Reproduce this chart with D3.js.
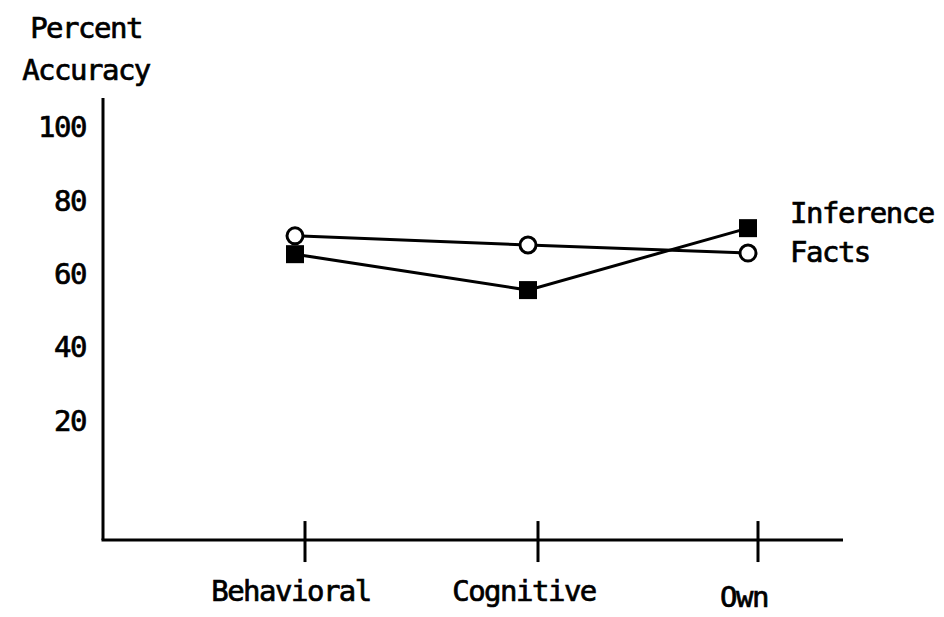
<!DOCTYPE html>
<html>
<head>
<meta charset="utf-8">
<script src="https://cdn.jsdelivr.net/npm/d3@7"></script>
<style>
  html, body { margin: 0; padding: 0; background: #fff; }
  svg { display: block; }
  text { font-family: "DejaVu Sans Mono", monospace; font-size: 29px; letter-spacing: -1.5px; fill: #000; stroke: #000; stroke-width: 0.7px; }
</style>
</head>
<body>
<svg id="chart" width="944" height="617"></svg>
<script>
// ---- data ----
const categories = ["Behavioral", "Cognitive", "Own"];
const inferenceValues = [65.3, 55.5, 72.4];
const factsValues = [70.3, 67.8, 65.6];
const yTickValues = [100, 80, 60, 40, 20];
const yTickLabels = ["100", "80", "60", "40", "20"];
const yTitleLines = ["Percent", "Accuracy"];
const seriesNames = ["Inference", "Facts"];

// ---- layout ----
const svg = d3.select("#chart");
const y = d3.scaleLinear().domain([0, 100]).range([493.5, 127]);
const x = d3.scaleOrdinal().domain(categories).range([305, 538, 758]);
const markerShift = -10;
const axisY = y(-12.7);
const axisX = 103;

// Y axis line
svg.append("line")
  .attr("x1", axisX).attr("x2", axisX)
  .attr("y1", y(107.9)).attr("y2", axisY)
  .attr("stroke", "#000").attr("stroke-width", 3);

// X axis line
svg.append("line")
  .attr("x1", axisX - 1.5).attr("x2", 843)
  .attr("y1", axisY).attr("y2", axisY)
  .attr("stroke", "#000").attr("stroke-width", 3);

// X ticks (crossing)
svg.selectAll(".xtick").data(categories).enter().append("line")
  .attr("x1", d => x(d)).attr("x2", d => x(d))
  .attr("y1", axisY - 19).attr("y2", axisY + 22)
  .attr("stroke", "#000").attr("stroke-width", 3);

// X labels
svg.selectAll(".xlab").data(categories).enter().append("text")
  .attr("x", d => x(d) - 14)
  .attr("y", (d, i) => i === 2 ? 607 : 601)
  .attr("text-anchor", "middle")
  .text(d => d);

// Y tick labels
svg.selectAll(".ylab").data(yTickValues).enter().append("text")
  .attr("x", 86)
  .attr("y", d => y(d))
  .attr("dy", "0.36em")
  .attr("text-anchor", "end")
  .text((d, i) => yTickLabels[i]);

// Y title
svg.selectAll(".ytitle").data(yTitleLines).enter().append("text")
  .attr("x", 86)
  .attr("y", (d, i) => 38 + i * 42)
  .attr("text-anchor", "middle")
  .text(d => d);

// Lines
const line = d3.line()
  .x((d, i) => x(categories[i]) + markerShift)
  .y(d => y(d));

svg.append("path").datum(inferenceValues)
  .attr("d", line).attr("fill", "none")
  .attr("stroke", "#000").attr("stroke-width", 3);
svg.append("path").datum(factsValues)
  .attr("d", line).attr("fill", "none")
  .attr("stroke", "#000").attr("stroke-width", 3);

// Markers: Inference filled squares
const sq = 18;
svg.selectAll(".sq").data(inferenceValues).enter().append("rect")
  .attr("x", (d, i) => x(categories[i]) + markerShift - sq / 2)
  .attr("y", d => y(d) - sq / 2)
  .attr("width", sq).attr("height", sq)
  .attr("fill", "#000");

// Markers: Facts open circles
svg.selectAll(".ci").data(factsValues).enter().append("circle")
  .attr("cx", (d, i) => x(categories[i]) + markerShift)
  .attr("cy", d => y(d))
  .attr("r", 8)
  .attr("fill", "#fff")
  .attr("stroke", "#000").attr("stroke-width", 3);

// Legend labels next to the Own points
svg.append("text").attr("x", 790).attr("y", 223).text(seriesNames[0]);
svg.append("text").attr("x", 790).attr("y", 262).text(seriesNames[1]);
</script>
</body>
</html>
